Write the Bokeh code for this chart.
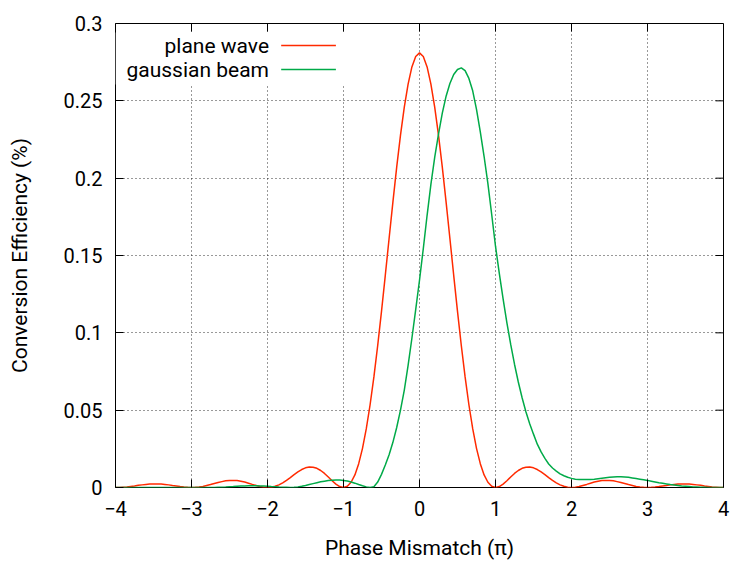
from bokeh.plotting import figure
from bokeh.models import Range1d, FixedTicker, BoxAnnotation, Label, Arrow
from bokeh.embed import file_html
from bokeh.resources import INLINE

# Phase mismatch sampling positions (units of pi)
phase = [k / 20 for k in range(-80, 81)]

# Conversion efficiency, x = -4.00 ... 4.00 step 0.05
plane_wave = [
    0.0000, 0.0000, 0.0002, 0.0004, 0.0007, 0.0010, 0.0014, 0.0017, 0.0020, 0.0022,
    0.0023, 0.0023, 0.0022, 0.0020, 0.0017, 0.0013, 0.0010, 0.0006, 0.0003, 0.0001,
    0.0000, 0.0001, 0.0003, 0.0007, 0.0013, 0.0019, 0.0026, 0.0032, 0.0038, 0.0043,
    0.0046, 0.0046, 0.0045, 0.0041, 0.0035, 0.0028, 0.0020, 0.0013, 0.0006, 0.0002,
    0.0000, 0.0002, 0.0008, 0.0017, 0.0030, 0.0046, 0.0064, 0.0083, 0.0101, 0.0116,
    0.0127, 0.0132, 0.0131, 0.0124, 0.0110, 0.0091, 0.0068, 0.0044, 0.0022, 0.0006,
    0.0000, 0.0008, 0.0034, 0.0081, 0.0154, 0.0253, 0.0380, 0.0535, 0.0715, 0.0918,
    0.1139, 0.1372, 0.1610, 0.1845, 0.2071, 0.2278, 0.2459, 0.2608, 0.2719, 0.2787,
    0.2810,
    0.2787, 0.2719, 0.2608, 0.2459, 0.2278, 0.2071, 0.1845, 0.1610, 0.1372, 0.1139,
    0.0918, 0.0715, 0.0535, 0.0380, 0.0253, 0.0154, 0.0081, 0.0034, 0.0008, 0.0000,
    0.0006, 0.0022, 0.0044, 0.0068, 0.0091, 0.0110, 0.0124, 0.0131, 0.0132, 0.0127,
    0.0116, 0.0101, 0.0083, 0.0064, 0.0046, 0.0030, 0.0017, 0.0008, 0.0002, 0.0000,
    0.0002, 0.0006, 0.0013, 0.0020, 0.0028, 0.0035, 0.0041, 0.0045, 0.0046, 0.0046,
    0.0043, 0.0038, 0.0032, 0.0026, 0.0019, 0.0013, 0.0007, 0.0003, 0.0001, 0.0000,
    0.0001, 0.0003, 0.0006, 0.0010, 0.0013, 0.0017, 0.0020, 0.0022, 0.0023, 0.0023,
    0.0022, 0.0020, 0.0017, 0.0014, 0.0010, 0.0007, 0.0004, 0.0002, 0.0000, 0.0000,
]

gaussian_beam = [
    0.0000, 0.0000, 0.0000, 0.0000, 0.0000, 0.0000, 0.0000, 0.0000, 0.0000, 0.0000,
    0.0000, 0.0000, 0.0000, 0.0000, 0.0000, 0.0000, 0.0000, 0.0000, 0.0000, 0.0000,
    0.0000, 0.0000, 0.0000, 0.0000, 0.0000, 0.0000,
    0.0000, 0.0001, 0.0002, 0.0003, 0.0005, 0.0006, 0.0008, 0.0009, 0.0010, 0.0011,
    0.0011, 0.0011, 0.0010, 0.0009, 0.0008, 0.0006, 0.0005, 0.0003, 0.0002, 0.0001,
    0.0000,
    0.0001, 0.0004, 0.0008, 0.0013, 0.0019, 0.0025, 0.0031, 0.0037, 0.0041, 0.0045,
    0.0047, 0.0048, 0.0048, 0.0046, 0.0042, 0.0036, 0.0028, 0.0019, 0.0011, 0.0004,
    0.0000,
    0.0005, 0.0035, 0.0085, 0.0145, 0.0212, 0.0292, 0.0388, 0.0500, 0.0630, 0.0790,
    0.0965, 0.1150, 0.1340,
    0.1545, 0.1760, 0.1960, 0.2135, 0.2285, 0.2420, 0.2530, 0.2612, 0.2670, 0.2703,
    0.2713, 0.2695, 0.2645, 0.2565, 0.2445, 0.2300, 0.2140, 0.1965, 0.1765, 0.1560,
    0.1385, 0.1220, 0.1065, 0.0925, 0.0797, 0.0682, 0.0580, 0.0490, 0.0412, 0.0345,
    0.0280, 0.0230, 0.0188, 0.0152, 0.0126, 0.0106, 0.0088, 0.0076, 0.0066, 0.0059,
    0.0054, 0.0052, 0.0051, 0.0051, 0.0052, 0.0054, 0.0057, 0.0060, 0.0063, 0.0066,
    0.0068, 0.0069, 0.0069, 0.0068, 0.0066, 0.0062, 0.0058, 0.0054, 0.0050, 0.0046,
    0.0041, 0.0036, 0.0031, 0.0027, 0.0023, 0.0019, 0.0016, 0.0013, 0.0010, 0.0008,
    0.0006, 0.0004, 0.0003, 0.0002, 0.0001, 0.0000, 0.0000, 0.0000, 0.0000, 0.0000,
]

x_ticks = [-4, -3, -2, -1, 0, 1, 2, 3, 4]
x_tick_labels = ["\u22124", "\u22123", "\u22122", "\u22121", "0", "1", "2", "3", "4"]
y_ticks = [0, 0.05, 0.1, 0.15, 0.2, 0.25, 0.3]
y_tick_labels = ["0", "0.05", "0.1", "0.15", "0.2", "0.25", "0.3"]
series_names = ["plane wave", "gaussian beam"]
series_colors = ["#ff2a00", "#00aa48"]

FONT = "Roboto"
TICK_SIZE = "20px"
TITLE_SIZE = "21px"
KEY_SIZE = "21px"

X0, X1, Y0, Y1 = -4, 4, 0, 0.3
p = figure(width=732, height=565, x_range=Range1d(X0, X1), y_range=Range1d(Y0, Y1),
           output_backend="svg", toolbar_location=None,
           min_border_left=115, min_border_right=9, min_border_top=23, min_border_bottom=78)
p.background_fill_color = "white"
p.border_fill_color = "white"
p.outline_line_color = "black"
p.outline_line_width = 1
p.outline_line_alpha = 1

for ax, ticks, labels in ((p.xaxis[0], x_ticks, x_tick_labels), (p.yaxis[0], y_ticks, y_tick_labels)):
    ax.ticker = FixedTicker(ticks=ticks)
    ax.major_label_overrides = {t: l for t, l in zip(ticks, labels)}
    ax.major_tick_in = 8
    ax.major_tick_out = 0
    ax.minor_tick_in = 0
    ax.minor_tick_out = 0
    ax.major_tick_line_color = "black"
    ax.axis_line_color = None
    ax.major_label_text_font = FONT
    ax.major_label_text_font_size = TICK_SIZE
    ax.major_label_text_color = "black"
    ax.axis_label_text_font = FONT
    ax.axis_label_text_font_size = TITLE_SIZE
    ax.axis_label_text_font_style = "normal"
    ax.axis_label_text_color = "black"

p.xaxis.axis_label = "Phase Mismatch (\u03c0)"
p.yaxis.axis_label = "Conversion Efficiency (%)"
p.xaxis.major_label_standoff = 13
p.xaxis.axis_label_standoff = 17
p.yaxis.major_label_standoff = 13
p.yaxis.axis_label_standoff = 29

# mirrored tick marks on the top and right frame edges (gnuplot style)
top_len = (Y1 - Y0) * 8 / 464
right_len = (X1 - X0) * 8 / 608
p.segment(x0=x_ticks, y0=[Y1] * len(x_ticks), x1=x_ticks, y1=[Y1 - top_len] * len(x_ticks),
          line_color="black", line_width=1)
p.segment(x0=[X1] * len(y_ticks), y0=y_ticks, x1=[X1 - right_len] * len(y_ticks), y1=y_ticks,
          line_color="black", line_width=1)

p.xgrid.ticker = FixedTicker(ticks=x_ticks)
p.ygrid.ticker = FixedTicker(ticks=y_ticks)
for g in (p.xgrid[0], p.ygrid[0]):
    g.grid_line_color = "black"
    g.grid_line_alpha = 0.8
    g.grid_line_dash = "1 3"
    g.grid_line_width = 1

p.line(phase, plane_wave, line_color=series_colors[0], line_width=1.5)
p.line(phase, gaussian_beam, line_color=series_colors[1], line_width=1.5)

# key (gnuplot style: text right-justified, sample line to its right)
p.add_layout(BoxAnnotation(left=-4, right=-0.96, bottom=0.2605, top=0.2942,
                           fill_color="white", fill_alpha=1, line_color=None))
key_y = [0.2857, 0.2702]
for name, color, ky in zip(series_names, series_colors, key_y):
    p.add_layout(Label(x=-1.98, y=ky, text=name, text_align="right", text_baseline="middle",
                       text_font=FONT, text_font_size=KEY_SIZE, text_color="black"))
    p.add_layout(Arrow(end=None, x_start=-1.82, y_start=ky, x_end=-1.10, y_end=ky,
                       line_color=color, line_width=1.5))

open("out.html", "w").write(file_html(p, INLINE))
